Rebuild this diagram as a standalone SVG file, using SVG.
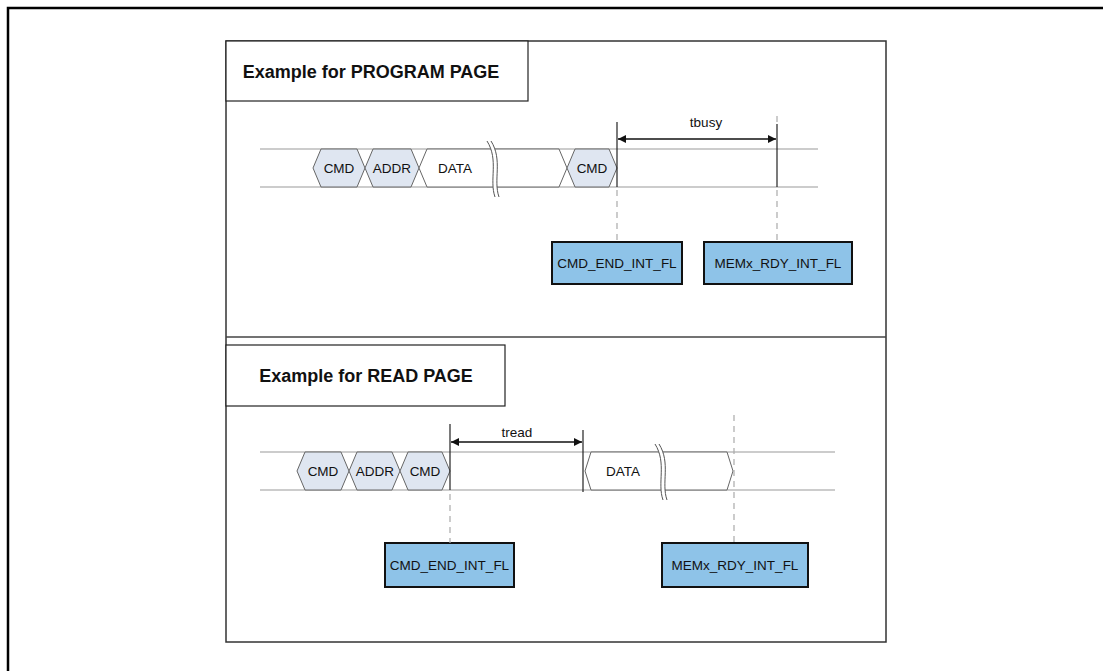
<svg xmlns="http://www.w3.org/2000/svg" width="1103" height="671" viewBox="0 0 1103 671">
<defs>
<style>
text{font-family:"Liberation Sans",Arial,sans-serif;fill:#111}
.title{font-size:18px;font-weight:bold}
.sig{font-size:13.5px}
.lbl{font-size:13.5px}
.bus{stroke:#9a9a9a;stroke-width:1.2;fill:none}
.hexc{fill:#dfe6f1;stroke:#666;stroke-width:1}
.hexd{fill:#fff;stroke:#666;stroke-width:1}
.flag{fill:#8ec3e8;stroke:#111;stroke-width:2}
.dash{stroke:#aaa;stroke-width:1.2;stroke-dasharray:6,5;fill:none}
.vline{stroke:#222;stroke-width:1.2}
.arr{stroke:#111;stroke-width:1.3;marker-start:url(#ah);marker-end:url(#ah)}
.brk{stroke:#555;stroke-width:1;fill:none}
</style>
<marker id="ah" viewBox="0 0 10 10" refX="10" refY="5" markerWidth="10" markerHeight="8" orient="auto-start-reverse" markerUnits="userSpaceOnUse">
<path d="M0,0 L10,5 L0,10 z" fill="#111"/>
</marker>
</defs>
<rect width="1103" height="671" fill="#fff"/>
<g id="frame">
<path d="M8,671 V8 H1103" fill="none" stroke="#000" stroke-width="2.5"/>
<rect x="226" y="41" width="660" height="601" fill="none" stroke="#333" stroke-width="1.5"/>
<line x1="226" y1="337" x2="886" y2="337" stroke="#444" stroke-width="1.5"/>
</g>
<g id="title-program">
<rect x="226" y="41" width="302" height="60" fill="#fff" stroke="#222" stroke-width="1.2"/>
<text class="title" x="371" y="78" text-anchor="middle">Example for PROGRAM PAGE</text>
</g>
<g id="title-read">
<rect x="226" y="345" width="279" height="61" fill="#fff" stroke="#222" stroke-width="1.2"/>
<text class="title" x="366" y="382" text-anchor="middle">Example for READ PAGE</text>
</g>
<g id="bus-program">
<line class="bus" x1="260" y1="149" x2="818" y2="149"/>
<line class="bus" x1="260" y1="187" x2="818" y2="187"/>
</g>
<g id="p-cmd1">
<polygon class="hexc" points="313,168 321,149 357,149 365,168 357,187 321,187"/>
<text class="sig" x="339" y="173" text-anchor="middle">CMD</text>
</g>
<g id="p-addr">
<polygon class="hexc" points="365,168 373,149 411,149 419,168 411,187 373,187"/>
<text class="sig" x="392" y="173" text-anchor="middle">ADDR</text>
</g>
<g id="p-data">
<polygon class="hexd" points="419,168 427,149 559,149 567,168 559,187 427,187"/>
<text class="sig" x="455" y="173" text-anchor="middle">DATA</text>
<path d="M487,141 C499,160 489,180 495,197 L499,197 C493,180 503,160 491,141 Z" fill="#fff" stroke="none"/>
<path class="brk" d="M487,141 C499,160 489,180 495,197"/>
<path class="brk" d="M491,141 C503,160 493,180 499,197"/>
</g>
<g id="p-cmd2">
<polygon class="hexc" points="567,168 575,149 609,149 617,168 609,187 575,187"/>
<text class="sig" x="592" y="173" text-anchor="middle">CMD</text>
</g>
<g id="p-cmdend">
<rect class="flag" x="552" y="242" width="130" height="42"/>
<text class="lbl" x="617" y="268" text-anchor="middle">CMD_END_INT_FL</text>
</g>
<g id="p-memrdy">
<rect class="flag" x="704" y="242" width="148" height="42"/>
<text class="lbl" x="778" y="268" text-anchor="middle">MEMx_RDY_INT_FL</text>
</g>
<g id="bus-read">
<line class="bus" x1="260" y1="452" x2="835" y2="452"/>
<line class="bus" x1="260" y1="490" x2="835" y2="490"/>
</g>
<g id="r-cmd1">
<polygon class="hexc" points="297,471 305,452 341,452 349,471 341,490 305,490"/>
<text class="sig" x="323" y="476" text-anchor="middle">CMD</text>
</g>
<g id="r-addr">
<polygon class="hexc" points="349,471 357,452 392,452 400,471 392,490 357,490"/>
<text class="sig" x="375" y="476" text-anchor="middle">ADDR</text>
</g>
<g id="r-cmd2">
<polygon class="hexc" points="400,471 408,452 442,452 450,471 442,490 408,490"/>
<text class="sig" x="425" y="476" text-anchor="middle">CMD</text>
</g>
<g id="r-data">
<polygon class="hexd" points="585,471 591,452 727,452 733,471 727,490 591,490"/>
<text class="sig" x="623" y="476" text-anchor="middle">DATA</text>
<path d="M655,444 C667,463 657,483 663,500 L667,500 C661,483 671,463 659,444 Z" fill="#fff" stroke="none"/>
<path class="brk" d="M655,444 C667,463 657,483 663,500"/>
<path class="brk" d="M659,444 C671,463 661,483 667,500"/>
</g>
<g id="r-cmdend">
<rect class="flag" x="385" y="543" width="129" height="44"/>
<text class="lbl" x="449.500" y="570" text-anchor="middle">CMD_END_INT_FL</text>
</g>
<g id="r-memrdy">
<rect class="flag" x="662" y="543" width="146" height="44"/>
<text class="lbl" x="735" y="570" text-anchor="middle">MEMx_RDY_INT_FL</text>
</g>
<g id="connectors">
<line class="vline" x1="617" y1="122" x2="617" y2="187"/>
<line class="vline" x1="777" y1="124" x2="777" y2="187"/>
<line class="dash" x1="777" y1="116" x2="777" y2="122"/>
<line class="dash" x1="617" y1="190" x2="617" y2="242"/>
<line class="dash" x1="777" y1="190" x2="777" y2="242"/>
<line class="arr" x1="618" y1="139" x2="776" y2="139"/>
<text class="sig" x="706" y="127" text-anchor="middle">tbusy</text>
<line class="vline" x1="450" y1="424" x2="450" y2="490"/>
<line class="vline" x1="583" y1="430" x2="583" y2="492"/>
<line class="dash" x1="450" y1="494" x2="450" y2="543"/>
<line class="dash" x1="734" y1="415" x2="734" y2="543"/>
<line class="arr" x1="451" y1="442" x2="582" y2="442"/>
<text class="sig" x="517" y="437" text-anchor="middle">tread</text>
</g>
</svg>
